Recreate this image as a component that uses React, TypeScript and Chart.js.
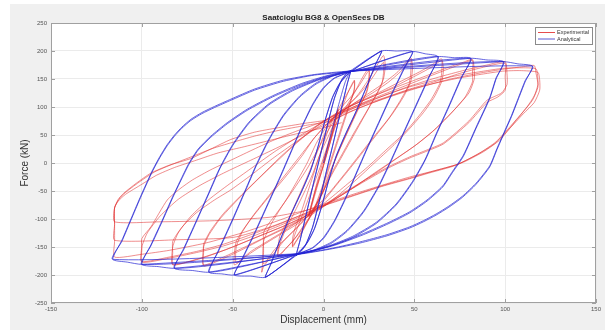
import React, { useEffect, useRef } from 'react';
import { Chart, registerables } from 'chart.js';

Chart.register(...registerables);

const TITLE = 'Saatcioglu BG8 & OpenSees DB';
const X_LABEL = 'Displacement (mm)';
const Y_LABEL = 'Force (kN)';
const SERIES_NAMES = ['Experimental', 'Analytical'];
const X_TICKS = [-150, -100, -50, 0, 50, 100, 150];
const Y_TICKS = [-250, -200, -150, -100, -50, 0, 50, 100, 150, 200, 250];

// ---------- Analytical (OpenSees) cycles: [displacement mm, force kN] ----------
const ana15 = [
  [0, 0], [4, 50], [8, 100], [12, 145], [15, 165],
  [13, 140], [9, 85], [5, 30], [2, -10], [-2, -65], [-6, -115], [-10, -148], [-13, -160], [-15, -165],
  [-13, -140], [-9, -85], [-5, -30], [-2, 10], [2, 65], [6, 115], [10, 148], [13, 160], [15, 165],
  [13, 141], [9, 86], [5, 31], [2, -9], [-2, -64], [-6, -114], [-10, -147], [-13, -159], [-15, -165],
  [-13, -139], [-9, -84], [-5, -29], [-2, 11], [2, 66], [6, 116], [10, 149], [13, 161],
];
const ana32 = [
  [15, 165], [20, 176], [24, 185], [28, 193], [32, 200],
  [29, 178], [24, 138], [18, 92], [12, 50], [7, 12], [3, -30], [-1, -78], [-5, -118], [-9, -143], [-14, -160],
  [-16, -165], [-20, -176], [-24, -186], [-28, -196], [-32, -204],
  [-29, -180], [-24, -138], [-18, -92], [-12, -50], [-7, -12], [-3, 30], [1, 78], [5, 118], [9, 143], [14, 160],
  [32, 200],
  [29, 179], [24, 139], [18, 93], [12, 51], [7, 13], [3, -29], [-1, -77], [-5, -117], [-9, -142], [-14, -161],
  [-32, -204],
  [-29, -181], [-24, -139], [-18, -93], [-12, -51], [-7, -13], [-3, 29], [1, 77], [5, 117], [9, 142], [14, 161],
];
const ana49 = [
  [14, 161], [32, 200], [40, 200], [49, 199],
  [45, 172], [38, 125], [31, 75], [24, 25], [18, -20], [12, -65], [6, -105], [0, -135], [-6, -152], [-14, -163],
  [-32, -204], [-40, -202], [-49, -200],
  [-45, -172], [-38, -125], [-31, -75], [-24, -25], [-18, 20], [-12, 65], [-6, 105], [0, 135], [6, 152], [14, 162],
  [49, 199],
  [45, 174], [38, 127], [31, 77], [24, 27], [18, -18], [12, -63], [6, -103], [0, -133], [-6, -151], [-14, -162],
  [-49, -200],
  [-45, -174], [-38, -127], [-31, -77], [-24, -27], [-18, 18], [-12, 63], [-6, 103], [0, 133], [6, 151], [14, 162],
];
const ana63 = [
  [14, 162], [49, 199], [56, 195], [63, 190],
  [58, 152], [50, 95], [43, 45], [37, 2], [30, -45], [22, -88], [13, -122], [4, -144], [-5, -156], [-14, -163],
  [-49, -200], [-56, -198], [-63, -195],
  [-58, -157], [-50, -100], [-43, -48], [-37, -3], [-30, 43], [-22, 86], [-13, 120], [-4, 143], [5, 156], [14, 163],
  [63, 190],
  [58, 154], [50, 97], [43, 47], [37, 4], [30, -43], [22, -86], [13, -120], [4, -142], [-5, -155], [-14, -162],
  [-63, -195],
  [-58, -159], [-50, -102], [-43, -50], [-37, -5], [-30, 41], [-22, 84], [-13, 118], [-4, 141], [5, 155], [14, 163],
];
const ana82 = [
  [14, 163], [63, 190], [72, 188], [81, 187],
  [76, 152], [69, 100], [62, 50], [56, 5], [49, -35], [40, -75], [29, -108], [16, -133], [2, -150], [-14, -163],
  [-63, -195], [-72, -192], [-82, -188],
  [-77, -153], [-70, -103], [-63, -52], [-57, -8], [-50, 33], [-41, 73], [-30, 106], [-17, 131], [-2, 150], [14, 163],
  [81, 187],
  [76, 154], [69, 102], [62, 52], [56, 7], [49, -33], [40, -73], [29, -106], [16, -131], [2, -149], [-14, -162],
  [-82, -188],
  [-77, -155], [-70, -105], [-63, -54], [-57, -10], [-50, 31], [-41, 71], [-30, 104], [-17, 129], [-2, 149], [14, 163],
];
const ana100 = [
  [14, 163], [81, 187], [90, 184], [99, 181],
  [95, 150], [91.5, 115], [84, 62], [77, 12], [71, -17], [65.6, -43], [57, -68], [47.5, -89], [36, -108], [22, -128], [6, -147], [-14, -163],
  [-82, -188], [-91, -185], [-100, -181],
  [-95, -146], [-89, -104], [-83, -60], [-78, -26], [-74, 0], [-69, 25], [-62, 48], [-53, 72], [-42, 96], [-28, 120], [-12, 142], [2, 156], [14, 164],
  [99, 181],
  [95, 152], [91.5, 117], [84, 64], [77, 14], [71, -15], [65.6, -41], [57, -66], [47.5, -87], [36, -106], [22, -126], [6, -146], [-14, -162],
  [-100, -181],
  [-95, -148], [-89, -106], [-83, -62], [-78, -28], [-74, -2], [-69, 23], [-62, 46], [-53, 70], [-42, 94], [-28, 118], [-12, 140], [2, 155], [14, 164],
];
const ana115 = [
  [14, 164], [99, 181], [107, 177], [115, 173],
  [111, 145], [107, 112], [103.5, 83], [99.7, 55], [95.5, 24], [91.5, -7], [84, -38], [76.6, -61], [69, -79], [62, -93], [55, -105], [47.5, -116], [35, -130], [20, -143], [5, -153], [-14, -163],
  [-100, -181], [-108, -177], [-116, -172],
  [-111, -138], [-106, -100], [-101, -62], [-97, -33], [-94, -12], [-90, 12], [-86, 33], [-82, 50], [-78, 64], [-73, 78], [-67, 90], [-60, 101], [-51, 114], [-38, 132], [-22, 148], [-5, 158], [14, 164],
  [115, 173],
  [111, 147], [107, 114], [103.5, 85], [99.7, 57], [95.5, 26], [91.5, -5], [84, -36], [76.6, -59], [69, -77], [62, -91], [55, -103], [47.5, -114], [35, -128], [20, -141], [5, -152], [-14, -162],
  [-116, -172],
  [-111, -140], [-106, -102], [-101, -64], [-97, -35], [-94, -14], [-90, 10], [-86, 31], [-82, 48], [-78, 62], [-73, 76], [-67, 88], [-60, 99], [-51, 112], [-38, 130], [-22, 146], [-5, 157], [14, 163],
];

// ---------- Experimental (Saatcioglu BG8) cycles: [displacement mm, force kN] ----------
const exp8 = [
  [0, 0], [3, 40], [6, 75], [8, 95], [7, 80], [4, 40], [0, -5], [-4, -45], [-7, -80], [-8, -95],
  [-7, -80], [-4, -40], [0, 5], [4, 45], [7, 82], [8, 96], [7, 82], [4, 42], [0, -3], [-4, -43], [-7, -78], [-8, -94],
];
const exp16 = [
  [-5, -60], [-1, -15], [3, 30], [7, 70], [11, 105], [14, 130], [17, 148], [17, 135], [16, 120],
  [12, 80], [8, 40], [4, 0], [0, -40], [-4, -75], [-8, -100], [-12, -125], [-15, -140], [-17, -150],
  [-17, -135], [-16, -120], [-12, -85], [-8, -45], [-4, -5], [0, 35], [4, 70], [8, 95], [12, 118], [15, 135], [17, 146],
  [17, 130], [15, 112], [11, 75], [7, 35], [3, -5], [-1, -45], [-5, -80], [-9, -105], [-13, -128], [-17, -148],
];
const exp25 = [
  [-16, -130], [-13, -105], [-9, -70], [-5, -35], [-1, 0], [3, 38], [7, 70], [12, 98], [17, 125], [21, 150], [25, 170],
  [25, 150], [24, 128], [19, 95], [14, 60], [9, 25], [4, -15], [0, -50], [-5, -85], [-10, -110], [-15, -132], [-20, -150], [-25, -168],
  [-25, -150], [-24, -130], [-19, -98], [-14, -62], [-9, -25], [-4, 15], [0, 48], [5, 80], [10, 100], [15, 118], [20, 140], [25, 165],
  [25, 145], [23, 122], [18, 90], [13, 55], [8, 18], [3, -20], [-1, -55], [-6, -88], [-11, -112], [-17, -140], [-25, -165],
];
const exp33 = [
  [-24, -145], [-21, -120], [-16, -88], [-11, -55], [-6, -20], [-2, 15], [3, 50], [7, 78], [13, 100], [19, 122], [25, 150], [29, 172], [33, 192],
  [34, 175], [33, 150], [29, 122], [23, 88], [17, 55], [11, 20], [5, -15], [0, -50], [-5, -80], [-10, -100], [-16, -120], [-22, -140], [-27, -160], [-33, -185], [-34, -195],
  [-33, -160], [-33, -125], [-31, -112], [-27, -95], [-21, -68], [-15, -35], [-9, 0], [-4, 35], [1, 62], [6, 82], [12, 100], [19, 120], [26, 148], [33, 180],
  [33, 160], [32, 140], [27, 110], [21, 75], [15, 40], [9, 5], [3, -30], [-2, -62], [-7, -88], [-13, -110], [-20, -132], [-27, -155], [-33, -180],
];
const exp48 = [
  [-33, -140], [-29, -110], [-23, -78], [-16, -45], [-9, -10], [-3, 25], [2, 55], [7, 80], [14, 100], [22, 118], [32, 140], [41, 163], [48, 188],
  [49, 170], [48, 145], [44, 118], [38, 88], [31, 58], [23, 25], [15, -8], [7, -40], [0, -68], [-6, -88], [-14, -108], [-24, -128], [-34, -148], [-42, -165], [-49, -182],
  [-49, -160], [-48, -140], [-44, -118], [-38, -92], [-30, -60], [-21, -25], [-12, 12], [-5, 45], [2, 70], [8, 88], [16, 105], [26, 123], [36, 145], [44, 168], [48, 185],
  [48, 160], [47, 140], [42, 110], [36, 80], [28, 48], [20, 15], [12, -18], [4, -50], [-3, -75], [-10, -95], [-20, -118], [-30, -138], [-40, -158], [-48, -178],
];
const exp65 = [
  [-48, -150], [-45, -125], [-39, -95], [-31, -62], [-22, -25], [-13, 12], [-5, 45], [2, 70], [9, 90], [18, 107], [30, 125], [42, 145], [53, 163], [60, 176], [65, 186],
  [66, 165], [65, 145], [61, 118], [55, 90], [47, 60], [38, 30], [28, 0], [18, -30], [8, -58], [0, -78], [-8, -95], [-20, -115], [-33, -135], [-45, -155], [-56, -172], [-66, -184],
  [-66, -160], [-66, -145], [-62, -120], [-55, -90], [-46, -60], [-35, -25], [-24, 10], [-13, 42], [-3, 68], [5, 85], [15, 102], [28, 120], [40, 138], [52, 158], [60, 172], [65, 183],
  [65, 160], [64, 142], [59, 112], [52, 82], [44, 52], [34, 22], [24, -8], [13, -38], [3, -65], [-5, -85], [-15, -105], [-28, -126], [-42, -148], [-55, -168], [-66, -182],
];
const exp82 = [
  [-66, -150], [-63, -128], [-57, -100], [-48, -68], [-37, -32], [-26, 2], [-15, 35], [-5, 62], [4, 82], [14, 100], [28, 120], [42, 138], [56, 155], [68, 170], [77, 180], [82, 185],
  [83, 165], [83, 150], [80, 125], [72, 95], [62, 62], [52, 35], [42, 12], [30, -15], [16, -45], [3, -72], [-8, -92], [-20, -110], [-35, -130], [-50, -150], [-65, -168], [-76, -178], [-83, -182],
  [-83, -160], [-83, -140], [-78, -115], [-70, -89], [-60, -66], [-51, -48], [-40, -22], [-28, 8], [-15, 38], [-4, 62], [5, 80], [15, 98], [28, 116], [42, 134], [56, 152], [68, 167], [77, 178], [82, 183],
  [82, 160], [82, 145], [78, 118], [70, 88], [60, 56], [50, 30], [40, 8], [28, -18], [15, -47], [2, -73], [-9, -93], [-22, -113], [-38, -134], [-54, -155], [-70, -172], [-83, -181],
];
const exp100 = [
  [-83, -150], [-80, -125], [-73, -95], [-63, -65], [-52, -38], [-40, -10], [-27, 20], [-14, 47], [-3, 68], [6, 85], [18, 102], [33, 120], [48, 138], [63, 153], [78, 166], [90, 175], [100, 181],
  [101, 160], [101, 140], [98, 125], [90, 112], [80, 75], [66, 36], [56, 22], [47.5, 11], [35, -8], [22, -32], [10, -55], [0, -75], [-10, -90], [-25, -110], [-40, -128], [-55, -145], [-70, -158], [-85, -168], [-100, -176],
  [-100, -155], [-100, -135], [-95, -114], [-86, -66], [-79, -46], [-72, -30], [-62, -12], [-51, 5], [-40, 22], [-28, 40], [-14, 58], [-2, 72], [7, 86], [20, 102], [34, 117], [47.5, 132], [62, 146], [75, 160], [88, 171], [100, 178],
  [100, 155], [100, 130], [96, 118], [90, 108], [80, 72], [66, 34], [56, 20], [47.5, 9], [35, -10], [22, -34], [10, -57], [0, -76], [-10, -92], [-25, -113], [-40, -132], [-55, -148], [-70, -160], [-85, -170], [-100, -177],
];
const exp117 = [
  [-100, -150], [-97, -125], [-90, -95], [-80, -65], [-68, -40], [-55, -18], [-40, 5], [-25, 28], [-10, 52], [2, 70], [12, 88], [25, 105], [40, 122], [55, 137], [70, 150], [85, 160], [100, 168], [110, 172], [116, 174],
  [117, 160], [118, 140], [116, 120], [112, 100], [105, 72], [97, 41], [88, 20], [76, 0], [62, -13], [47.5, -25], [35, -37], [20, -52], [5, -68], [-10, -85], [-25, -103], [-45, -125], [-65, -143], [-85, -156], [-100, -163], [-115, -168],
  [-115, -140], [-115, -110], [-115, -80], [-113, -65], [-110, -54], [-103, -36], [-95, -18], [-85, -4], [-73, 8], [-62, 25], [-51, 42], [-38, 55], [-25, 63], [-10, 71], [3.6, 78], [18, 100], [33, 120], [47.5, 136], [62, 148], [75, 157], [88, 164], [98.6, 169], [108, 170], [117, 168],
  [118, 150], [118, 135], [115, 112], [110, 92], [103, 66], [95, 38], [86, 18], [74, -2], [60, -15], [47.5, -27], [33, -40], [18, -56], [5, -70], [-10, -90], [-30, -115], [-50, -133], [-80, -137], [-115, -138],
  [-115, -110], [-115, -80], [-112, -62], [-108, -50], [-101, -33], [-93, -16], [-83, -2], [-72, 12], [-61, 26], [-51, 36], [-38, 48], [-25, 58], [-10, 67], [3.6, 75], [18, 96], [33, 115], [47.5, 131], [62, 143], [75, 152], [88, 159], [98.6, 164], [108, 165], [118, 162],
  [119, 148], [119, 130], [116, 108], [110, 88], [102, 60], [94, 34], [84, 14], [72, -5], [58, -18], [47.5, -28], [32, -42], [17, -58], [4, -72], [-10, -85], [-30, -97], [-60, -103], [-90, -105], [-115, -105],
  [-115, -80], [-113, -68], [-109, -56], [-100, -38], [-92, -22], [-82, -8], [-70, 5], [-58, 18], [-45, 28], [-30, 40], [-15, 52], [0, 63], [10, 72],
];

const EXPERIMENTAL = [exp8, exp16, exp25, exp33, exp48, exp65, exp82, exp100, exp117];
const ANALYTICAL = [ana15, ana32, ana49, ana63, ana82, ana100, ana115];

const RED = 'rgba(226, 45, 45, 0.6)';
const BLUE = 'rgba(34, 34, 210, 0.78)';
const RED_KEY = 'rgba(226, 45, 45, 0.85)';
const BLUE_KEY = 'rgba(60, 60, 200, 0.85)';
const FONT = "'Liberation Sans', Arial, Helvetica, sans-serif";

const toPoints = (cycles: number[][][]) =>
  cycles.flat().map(([x, y]) => ({ x, y }));

const figurePlugin = {
  id: 'matlabFigure',
  beforeDraw(chart: any) {
    const { ctx, chartArea: a } = chart;
    ctx.save();
    ctx.fillStyle = '#ffffff';
    ctx.fillRect(0, 0, chart.width, chart.height);
    ctx.fillStyle = '#f0f0f0';
    ctx.fillRect(10, 4, 595, 326);
    ctx.fillStyle = '#ffffff';
    ctx.fillRect(a.left, a.top, a.right - a.left, a.bottom - a.top);
    ctx.restore();
  },
  afterDraw(chart: any) {
    const { ctx, chartArea: a, scales } = chart;
    ctx.save();
    // title over the axes centre
    ctx.fillStyle = '#222222';
    ctx.font = `bold 8px ${FONT}`;
    ctx.textAlign = 'center';
    ctx.textBaseline = 'middle';
    ctx.fillText(TITLE, (a.left + a.right) / 2, 18);

    ctx.strokeStyle = '#a0a0a0';
    ctx.lineWidth = 1;
    ctx.strokeRect(a.left + 0.5, a.top + 0.5, a.right - a.left - 1, a.bottom - a.top - 1);
    ctx.beginPath();
    for (const v of X_TICKS) {
      const px = Math.round(scales.x.getPixelForValue(v)) + 0.5;
      ctx.moveTo(px, a.bottom);
      ctx.lineTo(px, a.bottom - 4);
      ctx.moveTo(px, a.top);
      ctx.lineTo(px, a.top + 4);
    }
    for (const v of Y_TICKS) {
      const py = Math.round(scales.y.getPixelForValue(v)) + 0.5;
      ctx.moveTo(a.left, py);
      ctx.lineTo(a.left + 4, py);
      ctx.moveTo(a.right, py);
      ctx.lineTo(a.right - 4, py);
    }
    ctx.stroke();

    // legend box
    const w = 57;
    const h = 17;
    const x0 = a.right - 61;
    const y0 = a.top + 4;
    ctx.fillStyle = '#ffffff';
    ctx.fillRect(x0, y0, w, h);
    ctx.strokeStyle = '#8a8a8a';
    ctx.strokeRect(x0 + 0.5, y0 + 0.5, w, h);
    const colors = [RED_KEY, BLUE_KEY];
    ctx.font = `5.5px ${FONT}`;
    ctx.textBaseline = 'middle';
    ctx.textAlign = 'left';
    SERIES_NAMES.forEach((name, i) => {
      const yy = y0 + 5.5 + i * 6.5;
      ctx.strokeStyle = colors[i];
      ctx.lineWidth = 1;
      ctx.beginPath();
      ctx.moveTo(x0 + 3, yy);
      ctx.lineTo(x0 + 20, yy);
      ctx.stroke();
      ctx.fillStyle = '#333333';
      ctx.fillText(name, x0 + 22, yy);
    });
    ctx.restore();
  },
};

export default function App() {
  const canvasRef = useRef<HTMLCanvasElement | null>(null);

  useEffect(() => {
    const canvas = canvasRef.current;
    if (!canvas) return;
    const chart = new Chart(canvas, {
      type: 'scatter',
      data: {
        datasets: [
          {
            label: SERIES_NAMES[0],
            data: toPoints(EXPERIMENTAL),
            showLine: true,
            borderColor: RED,
            backgroundColor: RED,
            borderWidth: 0.9,
            pointRadius: 0,
            tension: 0.2,
            order: 2,
          },
          {
            label: SERIES_NAMES[1],
            data: toPoints(ANALYTICAL),
            showLine: true,
            borderColor: BLUE,
            backgroundColor: BLUE,
            borderWidth: 0.9,
            pointRadius: 0,
            tension: 0.2,
            order: 1,
          },
        ],
      },
      options: {
        animation: false,
        responsive: false,
        events: [],
        layout: { padding: { left: 10, right: 19, top: 23, bottom: 1 } },
        plugins: {
          legend: { display: false },
          tooltip: { enabled: false },
          title: { display: false },
        },
        scales: {
          x: {
            type: 'linear',
            min: -150,
            max: 150,
            afterBuildTicks: (s: any) => {
              s.ticks = X_TICKS.map((v) => ({ value: v }));
            },
            afterFit: (s: any) => {
              s.height = 27;
            },
            grid: { color: '#ebebeb', drawTicks: false },
            border: { display: false },
            ticks: { color: '#555555', font: { size: 6, family: FONT }, padding: 3, maxRotation: 0, autoSkip: false },
            title: {
              display: true,
              text: X_LABEL,
              color: '#333333',
              font: { size: 10, family: FONT },
              padding: { top: 0, bottom: 4 },
            },
          },
          y: {
            type: 'linear',
            min: -250,
            max: 250,
            afterBuildTicks: (s: any) => {
              s.ticks = Y_TICKS.map((v) => ({ value: v }));
            },
            afterFit: (s: any) => {
              s.width = 41;
            },
            grid: { color: '#ebebeb', drawTicks: false },
            border: { display: false },
            ticks: { color: '#555555', font: { size: 6, family: FONT }, padding: 4, autoSkip: false },
            title: {
              display: true,
              text: Y_LABEL,
              color: '#333333',
              font: { size: 10, family: FONT },
              padding: { top: 9, bottom: 0 },
            },
          },
        },
      },
      plugins: [figurePlugin],
    } as any);
    return () => chart.destroy();
  }, []);

  return (
    <div style={{ position: 'absolute', left: 0, top: 0, width: 615, height: 331 }}>
      <canvas ref={canvasRef} width={615} height={331} style={{ display: 'block', width: 615, height: 331 }} />
    </div>
  );
}
